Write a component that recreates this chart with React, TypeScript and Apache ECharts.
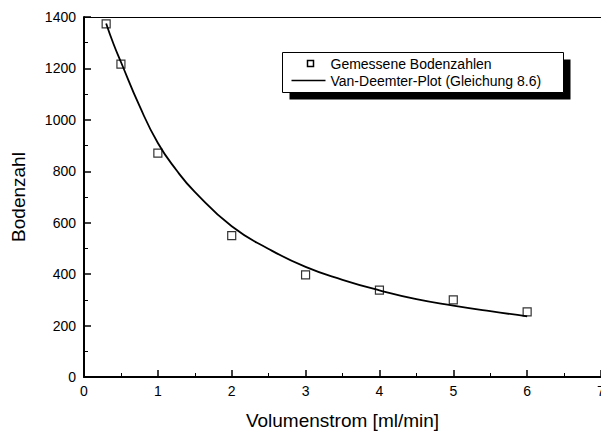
import React, { useEffect, useRef } from "react";
import * as echarts from "echarts";

const measuredX = [0.3, 0.5, 1, 2, 3, 4, 5, 6];
const measuredY = [1373, 1217, 871, 550, 397, 338, 300, 253];

const fitX = [0.3, 0.4, 0.5, 0.75, 1, 1.25, 1.5, 2, 2.5, 3, 3.5, 4, 4.5, 5, 5.5, 6];
const fitY = [1375, 1295, 1225, 1055, 910, 805, 720, 586, 498, 428, 378, 337, 303, 278, 256, 236];

const xTicks = [0, 1, 2, 3, 4, 5, 6, 7];
const yTicks = [0, 200, 400, 600, 800, 1000, 1200, 1400];

const seriesNames = ["Gemessene Bodenzahlen", "Van-Deemter-Plot (Gleichung 8.6)"];
const xTitle = "Volumenstrom [ml/min]";
const yTitle = "Bodenzahl";

const FONT = "'Liberation Sans', Arial, sans-serif";

export default function App() {
  const ref = useRef<HTMLDivElement>(null);
  useEffect(() => {
    if (!ref.current) return;
    const chart = echarts.init(ref.current, null, { renderer: "svg" });
    const scatterData = measuredX.map((x, i) => [x, measuredY[i]]);
    const lineData = fitX.map((x, i) => [x, fitY[i]]);
    chart.setOption({
      animation: false,
      backgroundColor: "#fff",
      textStyle: { fontFamily: FONT },
      grid: { left: 84, right: 0, top: 17, bottom: 56, containLabel: false, outerBoundsMode: "none" },
      xAxis: [
        {
          type: "value",
          min: xTicks[0],
          max: xTicks[xTicks.length - 1],
          interval: 1,
          name: xTitle,
          nameLocation: "middle",
          nameGap: 34,
          nameTextStyle: { fontSize: 19, color: "#000", fontFamily: FONT },
          axisLine: { show: true, onZero: false, lineStyle: { color: "#000", width: 2 } },
          axisTick: { show: true, inside: true, length: 7, lineStyle: { color: "#000", width: 1.5 } },
          minorTick: { show: true, splitNumber: 2, length: 4, lineStyle: { color: "#000", width: 1 } },
          axisLabel: { color: "#000", fontSize: 14, margin: 7, fontFamily: FONT, formatter: (v: number) => String(v) },
          splitLine: { show: false },
        },
        {
          type: "value",
          position: "top",
          min: xTicks[0],
          max: xTicks[xTicks.length - 1],
          interval: 1,
          axisLine: { show: true, onZero: false, lineStyle: { color: "#000", width: 1 } },
          axisTick: { show: false },
          axisLabel: { show: false },
          splitLine: { show: false },
        },
      ],
      yAxis: {
        type: "value",
        min: yTicks[0],
        max: yTicks[yTicks.length - 1],
        interval: 200,
        name: yTitle,
        nameLocation: "middle",
        nameGap: 56,
        nameTextStyle: { fontSize: 19, color: "#000", fontFamily: FONT },
        axisLine: { show: true, onZero: false, lineStyle: { color: "#000", width: 2 } },
        axisTick: { show: true, inside: true, length: 7, lineStyle: { color: "#000", width: 1.5 } },
        minorTick: { show: true, splitNumber: 2, length: 4, lineStyle: { color: "#000", width: 1 } },
        axisLabel: { color: "#000", fontSize: 14, margin: 8, fontFamily: FONT, formatter: (v: number) => String(v) },
        splitLine: { show: false },
      },
      series: [
        {
          name: seriesNames[1],
          type: "line",
          data: lineData,
          smooth: true,
          showSymbol: false,
          symbol: "none",
          lineStyle: { color: "#000", width: 1.8 },
          z: 2,
        },
        {
          name: seriesNames[0],
          type: "scatter",
          data: scatterData,
          symbol: "rect",
          symbolSize: 8,
          itemStyle: { color: "rgba(255,255,255,0)", borderColor: "#000", borderWidth: 1.2 },
          z: 3,
        },
      ],
      graphic: [
        {
          type: "group",
          left: 282,
          top: 52,
          children: [
            { type: "rect", shape: { x: 7, y: 7, width: 281, height: 40 }, style: { fill: "#000" } },
            { type: "rect", shape: { x: 0, y: 0, width: 281, height: 40 }, style: { fill: "#fff", stroke: "#000", lineWidth: 1 } },
            { type: "rect", shape: { x: 25, y: 8, width: 6, height: 6 }, style: { fill: "#fff", stroke: "#000", lineWidth: 1.5 } },
            { type: "line", shape: { x1: 9, y1: 28, x2: 43, y2: 28 }, style: { stroke: "#000", lineWidth: 1.5 } },
            {
              type: "text",
              x: 48,
              y: 11,
              style: { text: seriesNames[0], fontSize: 14, fontFamily: FONT, fill: "#000", verticalAlign: "middle" },
            },
            {
              type: "text",
              x: 48,
              y: 28,
              style: { text: seriesNames[1], fontSize: 14, fontFamily: FONT, fill: "#000", verticalAlign: "middle" },
            },
          ],
        },
      ],
    });
    return () => chart.dispose();
  }, []);
  return <div ref={ref} style={{ position: "absolute", left: 0, top: 0, width: 601, height: 433 }} />;
}
